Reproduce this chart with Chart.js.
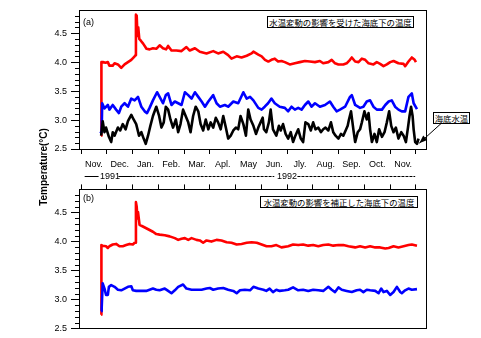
<!DOCTYPE html>
<html lang="ja">
<head>
<meta charset="UTF-8">
<title>Temperature</title>
<script src="https://cdn.jsdelivr.net/npm/chart.js"></script>
<style>
    body { margin: 0; background: #fff; }
    #wrap { position: relative; width: 481px; height: 338px; overflow: hidden; font-family: "Liberation Sans", Arial, sans-serif; color: #000; }
    canvas { position: absolute; left: 0; }
    #chartA { top: 0; }
    #chartB { top: 180px; }
    .lbl { position: absolute; font-size: 9px; line-height: 10px; white-space: nowrap; }
    .box { position: absolute; box-sizing: border-box; height: 12px; border: 1px solid #000; background: #fff;
           font-family: "Noto Sans CJK JP", sans-serif; font-size: 8.4px; line-height: 10px; text-align: center; white-space: nowrap; }
    #ytitle { position: absolute; left: 43px; top: 167px; transform: translate(-50%, -50%) rotate(-90deg);
              font-weight: bold; font-size: 10px; white-space: nowrap; }
</style>
</head>
<body>
<div id="wrap">
    <canvas id="chartA" width="481" height="185"></canvas>
    <canvas id="chartB" width="481" height="158"></canvas>

    <div id="ytitle">Temperature(°C)</div>
    <div class="lbl" style="left:83px; top:17px;">(a)</div>
    <div class="lbl" style="left:83px; top:193px;">(b)</div>
    <div class="lbl" style="left:100px; top:171px;">1991</div>
    <div class="lbl" style="left:277px; top:171px;">1992</div>
    <div class="box" style="left:267px; top:16px; width:147px;">水温変動の影響を受けた海底下の温度</div>
    <div class="box" style="left:260px; top:196px; width:158px;">水温変動の影響を補正した海底下の温度</div>
    <div class="box" style="left:433px; top:112px; width:37px;">海底水温</div>
</div>

<script>
    // x values are in months since 1 Nov 1991 (0 = Nov 1991, 13 = Dec 1992)
    const monthEdges = [0, 1, 2, 3, 4, 5, 6, 7, 8, 9, 10, 11, 12, 13];
    const monthLabels = ['Nov.', 'Dec.', 'Jan.', 'Feb.', 'Mar.', 'Apl.', 'May', 'Jun.', 'Jly.', 'Aug.', 'Sep.', 'Oct.', 'Nov.'];
    const yTicks = [2.5, 3.0, 3.5, 4.0, 4.5];
    const X_MIN = -0.08, X_MAX = 13.39;
    const Y_MIN = 2.5, Y_MAX = 4.9;

    // (a) affected by bottom water temperature changes
    const redA = [
        [0.78,2.73],[0.79,4.0],[0.85,4.0],[0.95,3.99],[1.04,4.0],[1.1,3.94],[1.23,3.94],[1.3,3.98],[1.43,3.96],
        [1.56,3.9],[1.69,3.96],[1.82,4.0],[1.95,4.04],[2.08,4.1],[2.11,4.12],[2.13,4.82],[2.16,4.8],[2.19,4.45],
        [2.22,4.6],[2.26,4.4],[2.32,4.37],[2.41,4.32],[2.54,4.23],[2.66,4.22],[2.79,4.24],[2.92,4.23],[3.05,4.29],
        [3.18,4.24],[3.3,4.22],[3.38,4.28],[3.51,4.2],[3.7,4.2],[3.9,4.19],[4.09,4.26],[4.22,4.2],[4.42,4.24],
        [4.61,4.18],[4.87,4.15],[5.13,4.19],[5.32,4.15],[5.52,4.18],[5.71,4.12],[5.84,4.06],[6.04,4.1],[6.23,4.08],
        [6.43,4.11],[6.62,4.15],[6.69,4.18],[6.88,4.13],[7.01,4.1],[7.14,4.04],[7.27,4.01],[7.39,4.04],[7.52,4.06],
        [7.65,4.01],[7.78,4.02],[7.91,4.0],[8.1,3.96],[8.3,3.98],[8.49,4.0],[8.69,4.02],[8.88,4.01],[9.08,4.0],
        [9.27,4.02],[9.4,3.98],[9.6,4.0],[9.73,4.04],[9.86,3.98],[9.99,3.96],[10.18,3.96],[10.31,3.98],[10.44,4.04],
        [10.51,4.08],[10.64,4.01],[10.77,4.0],[10.9,4.06],[11.03,4.04],[11.16,3.98],[11.35,3.96],[11.48,4.0],
        [11.61,3.97],[11.74,3.93],[11.87,3.96],[12.0,4.0],[12.13,4.02],[12.32,3.98],[12.52,3.97],[12.58,3.93],
        [12.71,4.01],[12.84,4.08],[12.95,4.04],[13.0,4.0]
    ];
    const blueA = [
        [0.75,2.77],[0.8,2.8],[0.82,3.29],[0.91,3.2],[1.04,3.26],[1.1,3.18],[1.23,3.26],[1.36,3.18],[1.47,3.12],
        [1.56,3.23],[1.69,3.29],[1.82,3.23],[1.95,3.37],[2.08,3.34],[2.21,3.4],[2.34,3.23],[2.47,3.15],[2.56,3.12],
        [2.66,3.21],[2.79,3.34],[2.95,3.48],[3.05,3.4],[3.18,3.29],[3.29,3.43],[3.38,3.46],[3.51,3.26],[3.64,3.32],
        [3.77,3.29],[3.9,3.26],[4.03,3.48],[4.16,3.43],[4.29,3.37],[4.42,3.48],[4.55,3.4],[4.68,3.32],[4.81,3.23],
        [4.94,3.32],[5.13,3.43],[5.26,3.29],[5.39,3.23],[5.58,3.26],[5.71,3.23],[5.91,3.32],[6.1,3.29],[6.3,3.48],
        [6.43,3.37],[6.56,3.4],[6.69,3.34],[6.88,3.21],[7.01,3.18],[7.13,3.23],[7.26,3.29],[7.39,3.37],[7.52,3.29],
        [7.71,3.23],[7.91,3.21],[8.04,3.15],[8.17,3.23],[8.3,3.18],[8.43,3.21],[8.56,3.18],[8.69,3.26],[8.82,3.32],
        [8.95,3.23],[9.08,3.29],[9.27,3.23],[9.47,3.26],[9.66,3.32],[9.79,3.23],[9.92,3.15],[10.05,3.18],[10.25,3.23],
        [10.44,3.4],[10.51,3.43],[10.64,3.26],[10.83,3.21],[10.96,3.23],[11.09,3.32],[11.22,3.34],[11.35,3.23],
        [11.48,3.18],[11.68,3.18],[11.81,3.26],[11.94,3.32],[12.06,3.34],[12.19,3.23],[12.32,3.18],[12.45,3.15],
        [12.58,3.15],[12.71,3.4],[12.84,3.46],[12.91,3.29],[13.04,3.19]
    ];
    const blackA = [
        [0.78,2.73],[0.84,2.98],[0.91,2.79],[0.97,2.87],[1.08,2.71],[1.17,2.62],[1.23,2.79],[1.3,2.73],[1.43,2.87],
        [1.52,2.82],[1.62,2.93],[1.73,2.84],[1.82,2.98],[1.95,3.09],[2.04,3.01],[2.14,2.93],[2.25,2.73],[2.34,2.79],
        [2.43,2.68],[2.51,2.59],[2.6,2.73],[2.69,2.9],[2.79,3.07],[2.92,3.23],[3.03,3.07],[3.12,2.87],[3.21,2.96],
        [3.29,3.23],[3.38,3.18],[3.47,3.01],[3.57,2.87],[3.68,3.01],[3.77,2.79],[3.86,2.93],[3.96,3.18],[4.06,3.07],
        [4.16,2.96],[4.25,2.79],[4.35,3.07],[4.45,3.23],[4.55,3.15],[4.64,2.93],[4.74,2.82],[4.84,3.01],[4.94,2.84],
        [5.03,2.96],[5.13,2.87],[5.23,3.04],[5.32,2.96],[5.42,2.84],[5.52,3.07],[5.62,2.87],[5.71,2.68],[5.81,2.73],
        [5.91,2.82],[6.01,2.87],[6.1,2.84],[6.19,3.07],[6.3,2.93],[6.4,2.73],[6.49,3.18],[6.58,3.01],[6.69,2.9],
        [6.79,2.76],[6.88,2.87],[6.97,2.96],[7.05,3.04],[7.1,2.84],[7.19,2.79],[7.29,2.96],[7.36,3.18],[7.45,2.84],
        [7.58,2.73],[7.68,2.9],[7.75,2.82],[7.84,2.93],[7.94,2.76],[8.04,2.68],[8.14,2.79],[8.23,2.62],[8.32,2.73],
        [8.43,2.84],[8.53,2.68],[8.62,2.62],[8.71,2.96],[8.82,2.93],[8.92,2.82],[9.01,2.96],[9.1,2.84],[9.21,2.87],
        [9.31,2.79],[9.4,2.84],[9.49,2.87],[9.6,2.82],[9.7,2.96],[9.79,2.79],[9.88,2.73],[9.99,2.68],[10.09,2.76],
        [10.18,2.73],[10.27,2.82],[10.35,2.9],[10.4,3.01],[10.48,3.15],[10.57,2.84],[10.64,2.62],[10.74,2.79],
        [10.83,2.84],[10.9,2.96],[11.0,3.15],[11.09,3.01],[11.16,3.12],[11.22,2.84],[11.29,2.62],[11.39,2.76],
        [11.48,2.62],[11.57,2.84],[11.68,2.71],[11.78,2.79],[11.87,2.96],[11.96,3.15],[12.04,2.9],[12.13,2.79],
        [12.22,2.87],[12.32,2.68],[12.43,2.79],[12.52,2.73],[12.61,2.62],[12.69,2.87],[12.75,3.07],[12.81,3.23],
        [12.87,3.07],[12.91,2.84],[12.97,2.62],[13.04,2.59],[13.1,2.68]
    ];

    // (b) corrected for bottom water temperature changes
    const redB = [
        [0.78,2.74],[0.79,3.94],[0.84,3.93],[0.97,3.92],[1.04,3.89],[1.1,3.92],[1.23,3.95],[1.36,3.96],[1.49,3.92],
        [1.62,3.92],[1.75,3.94],[1.88,3.96],[2.01,3.95],[2.08,3.98],[2.11,3.98],[2.13,4.68],[2.16,4.6],[2.19,4.4],
        [2.21,4.51],[2.27,4.29],[2.4,4.26],[2.53,4.23],[2.66,4.2],[2.79,4.17],[2.92,4.13],[3.05,4.12],[3.25,4.11],
        [3.44,4.09],[3.64,4.06],[3.77,4.03],[3.9,4.05],[4.03,4.06],[4.16,4.03],[4.29,4.06],[4.48,4.03],[4.61,4.02],
        [4.74,3.98],[4.87,4.02],[5.06,4.0],[5.26,4.03],[5.45,4.02],[5.65,3.99],[5.84,3.98],[6.04,3.95],[6.23,3.96],
        [6.43,3.98],[6.62,3.99],[6.82,3.98],[7.01,3.95],[7.2,3.92],[7.39,3.92],[7.58,3.94],[7.78,3.9],[8.04,3.92],
        [8.23,3.95],[8.43,3.94],[8.62,3.95],[8.82,3.93],[9.01,3.94],[9.21,3.92],[9.4,3.94],[9.6,3.95],[9.79,3.93],
        [9.99,3.94],[10.18,3.94],[10.38,3.92],[10.64,3.9],[10.83,3.92],[11.03,3.9],[11.22,3.92],[11.42,3.9],
        [11.61,3.9],[11.81,3.88],[11.94,3.89],[12.13,3.92],[12.32,3.9],[12.52,3.92],[12.71,3.94],[12.84,3.95],[13.04,3.93]
    ];
    const blueB = [
        [0.78,2.8],[0.8,2.85],[0.84,3.28],[0.91,3.19],[0.97,3.08],[1.04,3.08],[1.08,3.22],[1.17,3.25],[1.3,3.22],
        [1.43,3.17],[1.56,3.16],[1.69,3.19],[1.82,3.22],[1.95,3.23],[2.01,3.16],[2.14,3.15],[2.34,3.15],[2.53,3.15],
        [2.66,3.17],[2.79,3.19],[2.92,3.17],[3.05,3.16],[3.25,3.19],[3.38,3.15],[3.51,3.11],[3.64,3.16],[3.77,3.22],
        [3.96,3.26],[4.09,3.19],[4.29,3.17],[4.48,3.17],[4.68,3.17],[4.87,3.19],[5.0,3.2],[5.13,3.17],[5.32,3.19],
        [5.52,3.2],[5.71,3.17],[5.91,3.15],[6.04,3.11],[6.17,3.16],[6.36,3.17],[6.56,3.16],[6.69,3.22],[6.88,3.19],
        [7.08,3.17],[7.19,3.15],[7.32,3.19],[7.45,3.13],[7.58,3.17],[7.71,3.15],[7.91,3.16],[8.04,3.17],[8.23,3.21],
        [8.43,3.16],[8.62,3.17],[8.82,3.15],[9.01,3.17],[9.21,3.16],[9.4,3.15],[9.6,3.22],[9.73,3.17],[9.86,3.13],
        [9.99,3.21],[10.12,3.17],[10.31,3.15],[10.51,3.13],[10.7,3.16],[10.83,3.17],[10.96,3.13],[11.09,3.17],
        [11.22,3.16],[11.42,3.15],[11.55,3.11],[11.65,3.19],[11.74,3.13],[11.87,3.15],[12.0,3.08],[12.13,3.13],
        [12.26,3.22],[12.39,3.13],[12.45,3.11],[12.58,3.16],[12.71,3.19],[12.84,3.17],[13.04,3.18]
    ];

    Chart.defaults.font.family = '"Liberation Sans", Arial, sans-serif';
    Chart.defaults.font.size = 9;
    Chart.defaults.color = '#000';

    function lineSet(points, color) {
        return {
            data: points.map(p => ({ x: p[0], y: p[1] })),
            borderColor: color,
            borderWidth: 2.6,
            pointRadius: 0,
            tension: 0,
            borderJoinStyle: 'round',
            fill: false
        };
    }

    function yScale() {
        return {
            min: Y_MIN, max: Y_MAX,
            afterBuildTicks: s => { s.ticks = yTicks.map(v => ({ value: v })); },
            ticks: { callback: v => v.toFixed(1), padding: 4, color: '#000' },
            grid: { drawOnChartArea: false, tickLength: 8, color: '#000' },
            border: { color: '#000' },
            afterFit: s => { s.width = 79; }
        };
    }

    function xTickScale(position) {
        return {
            type: 'linear', axis: 'x', position: position, min: X_MIN, max: X_MAX,
            afterBuildTicks: s => { s.ticks = monthEdges.map(v => ({ value: v })); },
            ticks: { display: false },
            grid: { drawOnChartArea: false, tickLength: 5, color: '#000' },
            border: { color: '#000' },
            afterFit: s => { s.height = position === 'top' ? 6 : 5; }
        };
    }

    // box around plot and the small y ticks
    const framePlugin = {
        id: 'frame',
        afterDraw(chart) {
            const { ctx, chartArea: a } = chart;
            const y = chart.scales.y;
            ctx.save();
            ctx.strokeStyle = '#000';
            ctx.lineWidth = 1;
            ctx.strokeRect(Math.round(a.left) + 0.5, Math.round(a.top) + 0.5,
                Math.round(a.right - a.left), Math.round(a.bottom - a.top));
            for (let k = 26; k <= 48; k++) {
                if (k % 5 === 0) continue;
                const py = Math.round(y.getPixelForValue(k / 10)) + 0.5;
                ctx.beginPath();
                ctx.moveTo(a.left - 4, py);
                ctx.lineTo(a.left, py);
                ctx.stroke();
            }
            ctx.restore();
        }
    };

    // year row and arrow to the seabed water series (top panel only)
    const extrasPlugin = {
        id: 'extras',
        afterDraw(chart) {
            const { ctx } = chart;
            const x = chart.scales.x, y = chart.scales.y;
            const yy = 176.5;
            ctx.save();
            ctx.strokeStyle = '#000';
            ctx.lineWidth = 1;
            const seg = (m0, m1, dash) => {
                ctx.setLineDash(dash);
                ctx.beginPath();
                ctx.moveTo(x.getPixelForValue(m0), yy);
                ctx.lineTo(x.getPixelForValue(m1), yy);
                ctx.stroke();
            };
            seg(0.14, 0.68, []);
            seg(1.45, 2.0, []);
            seg(2.0, 7.5, [3, 1]);
            seg(8.4, 12.97, [3, 1]);
            ctx.setLineDash([]);

            const tx = x.getPixelForValue(13.13), ty = y.getPixelForValue(2.6);
            const sx = x.getPixelForValue(14.0), sy = y.getPixelForValue(2.95);
            ctx.beginPath();
            ctx.moveTo(sx, sy);
            ctx.lineTo(tx, ty);
            ctx.stroke();
            const ang = Math.atan2(ty - sy, tx - sx);
            ctx.fillStyle = '#000';
            ctx.beginPath();
            ctx.moveTo(tx, ty);
            ctx.lineTo(tx - 8 * Math.cos(ang) + 3 * Math.sin(ang), ty - 8 * Math.sin(ang) - 3 * Math.cos(ang));
            ctx.lineTo(tx - 8 * Math.cos(ang) - 3 * Math.sin(ang), ty - 8 * Math.sin(ang) + 3 * Math.cos(ang));
            ctx.closePath();
            ctx.fill();
            ctx.restore();
        }
    };

    const commonOpts = {
        responsive: false,
        animation: false,
        devicePixelRatio: 1,
        plugins: { legend: { display: false }, tooltip: { enabled: false } }
    };

    new Chart(document.getElementById('chartA'), {
        type: 'line',
        data: {
            datasets: [
                lineSet(blackA, '#000000'),
                lineSet(blueA, '#0000ff'),
                lineSet(redA, '#ff0000')
            ]
        },
        options: {
            ...commonOpts,
            layout: { padding: { left: 0, right: 55, top: 10, bottom: 12 } },
            scales: {
                x: xTickScale('bottom'),
                xm: {
                    type: 'linear', axis: 'x', position: 'bottom', min: X_MIN, max: X_MAX,
                    afterBuildTicks: s => { s.ticks = monthLabels.map((l, i) => ({ value: monthEdges[i] + 0.5 })); },
                    ticks: { callback: (v, i) => monthLabels[i], padding: 5, autoSkip: false, maxRotation: 0, color: '#000' },
                    grid: { display: false, drawTicks: false },
                    border: { display: false },
                    afterFit: s => { s.height = 19; }
                },
                y: yScale()
            }
        },
        plugins: [framePlugin, extrasPlugin]
    });

    new Chart(document.getElementById('chartB'), {
        type: 'line',
        data: {
            datasets: [
                lineSet(blueB, '#0000ff'),
                lineSet(redB, '#ff0000')
            ]
        },
        options: {
            ...commonOpts,
            layout: { padding: { left: 0, right: 55, top: 2, bottom: 7 } },
            scales: {
                x: xTickScale('top'),
                y: yScale()
            }
        },
        plugins: [framePlugin]
    });
</script>
</body>
</html>
